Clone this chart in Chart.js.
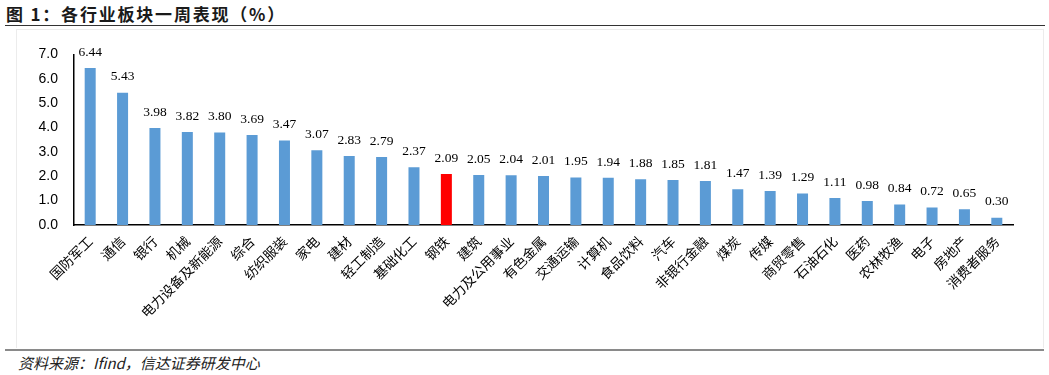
<!DOCTYPE html>
<html>
<head>
<meta charset="utf-8">
<script src="https://cdn.jsdelivr.net/npm/chart.js@4"></script>
<style>
  html, body { margin: 0; padding: 0; background: #fff; width: 1049px; height: 375px; overflow: hidden; }
  #title { position: absolute; left: 6px; top: 1px; font-family: "Noto Sans CJK SC", sans-serif; font-weight: bold; font-size: 17px; letter-spacing: 1.8px; color: #1a1a1a; white-space: nowrap; }
  #tline { position: absolute; left: 5px; top: 25px; width: 1040px; height: 0; border-top: 1.5px solid #333; }
  #box { position: absolute; left: 16px; top: 29px; width: 1026px; height: 318px; border-left: 1px solid #ececec; border-right: 1px solid #ececec; border-top: 1px solid #ececec; }
  #wrap { position: absolute; left: 0; top: 30px; width: 1049px; height: 315px; }
  #fline { position: absolute; left: 5px; top: 349px; width: 1039px; height: 0; border-top: 2px solid #8a8a8a; }
  #foot { position: absolute; left: 18px; top: 352px; font-family: "Noto Sans CJK SC", sans-serif; font-style: italic; font-size: 15px; color: #222; white-space: nowrap; }
</style>
</head>
<body>
<div id="title">图 1：各行业板块一周表现（%）</div>
<div id="tline"></div>
<div id="box"></div>
<div id="wrap"><canvas id="c" width="1049" height="315"></canvas></div>
<div id="fline"></div>
<div id="foot">资料来源：Ifind，信达证券研发中心</div>
<script>
const categories = ["国防军工","通信","银行","机械","电力设备及新能源","综合","纺织服装","家电","建材","轻工制造","基础化工","钢铁","建筑","电力及公用事业","有色金属","交通运输","计算机","食品饮料","汽车","非银行金融","煤炭","传媒","商贸零售","石油石化","医药","农林牧渔","电子","房地产","消费者服务"];
const weeklyReturn = [6.44,5.43,3.98,3.82,3.80,3.69,3.47,3.07,2.83,2.79,2.37,2.09,2.05,2.04,2.01,1.95,1.94,1.88,1.85,1.81,1.47,1.39,1.29,1.11,0.98,0.84,0.72,0.65,0.30];
const highlightCategory = "钢铁";
const yTicks = [0,1,2,3,4,5,6,7];

const barColors = categories.map(c => c === highlightCategory ? "#FF0000" : "#5B9BD5");

const valueLabels = {
  id: "valueLabels",
  afterDatasetsDraw(chart) {
    const ctx = chart.ctx;
    const meta = chart.getDatasetMeta(0);
    ctx.save();
    ctx.font = "13.5px 'Liberation Serif', 'Times New Roman', serif";
    ctx.fillStyle = "#000";
    ctx.textAlign = "center";
    ctx.textBaseline = "bottom";
    meta.data.forEach((bar, i) => {
      ctx.fillText(weeklyReturn[i].toFixed(2), bar.x, bar.y - 9);
    });
    ctx.restore();
  }
};

new Chart(document.getElementById("c"), {
  type: "bar",
  data: {
    labels: categories,
    datasets: [{
      data: weeklyReturn,
      backgroundColor: barColors,
      borderWidth: 0,
      barPercentage: 0.34,
      categoryPercentage: 1.0
    }]
  },
  options: {
    responsive: false,
    animation: false,
    devicePixelRatio: 1,
    layout: { padding: { top: 22, right: 36, left: 0, bottom: 0 } },
    plugins: { legend: { display: false }, tooltip: { enabled: false } },
    scales: {
      x: {
        grid: { display: false, drawTicks: false },
        border: { display: true, color: "#000", width: 1.5 },
        ticks: {
          autoSkip: false,
          minRotation: 45,
          maxRotation: 45,
          padding: 8,
          color: "#000",
          font: { family: "'Noto Sans CJK SC', sans-serif", size: 13.5 }
        },
        afterFit(scale) { scale.height = 120; }
      },
      y: {
        min: 0,
        max: 7,
        grid: { display: false, drawTicks: false },
        border: { display: true, color: "#000", width: 1.5 },
        afterBuildTicks(scale) { scale.ticks = yTicks.map(v => ({ value: v })); },
        ticks: {
          padding: 16,
          color: "#000",
          font: { family: "'Liberation Sans', Arial, sans-serif", size: 14 },
          callback: v => Number(v).toFixed(1)
        },
        afterFit(scale) { scale.width = 74; }
      }
    }
  },
  plugins: [valueLabels]
});
</script>
</body>
</html>
